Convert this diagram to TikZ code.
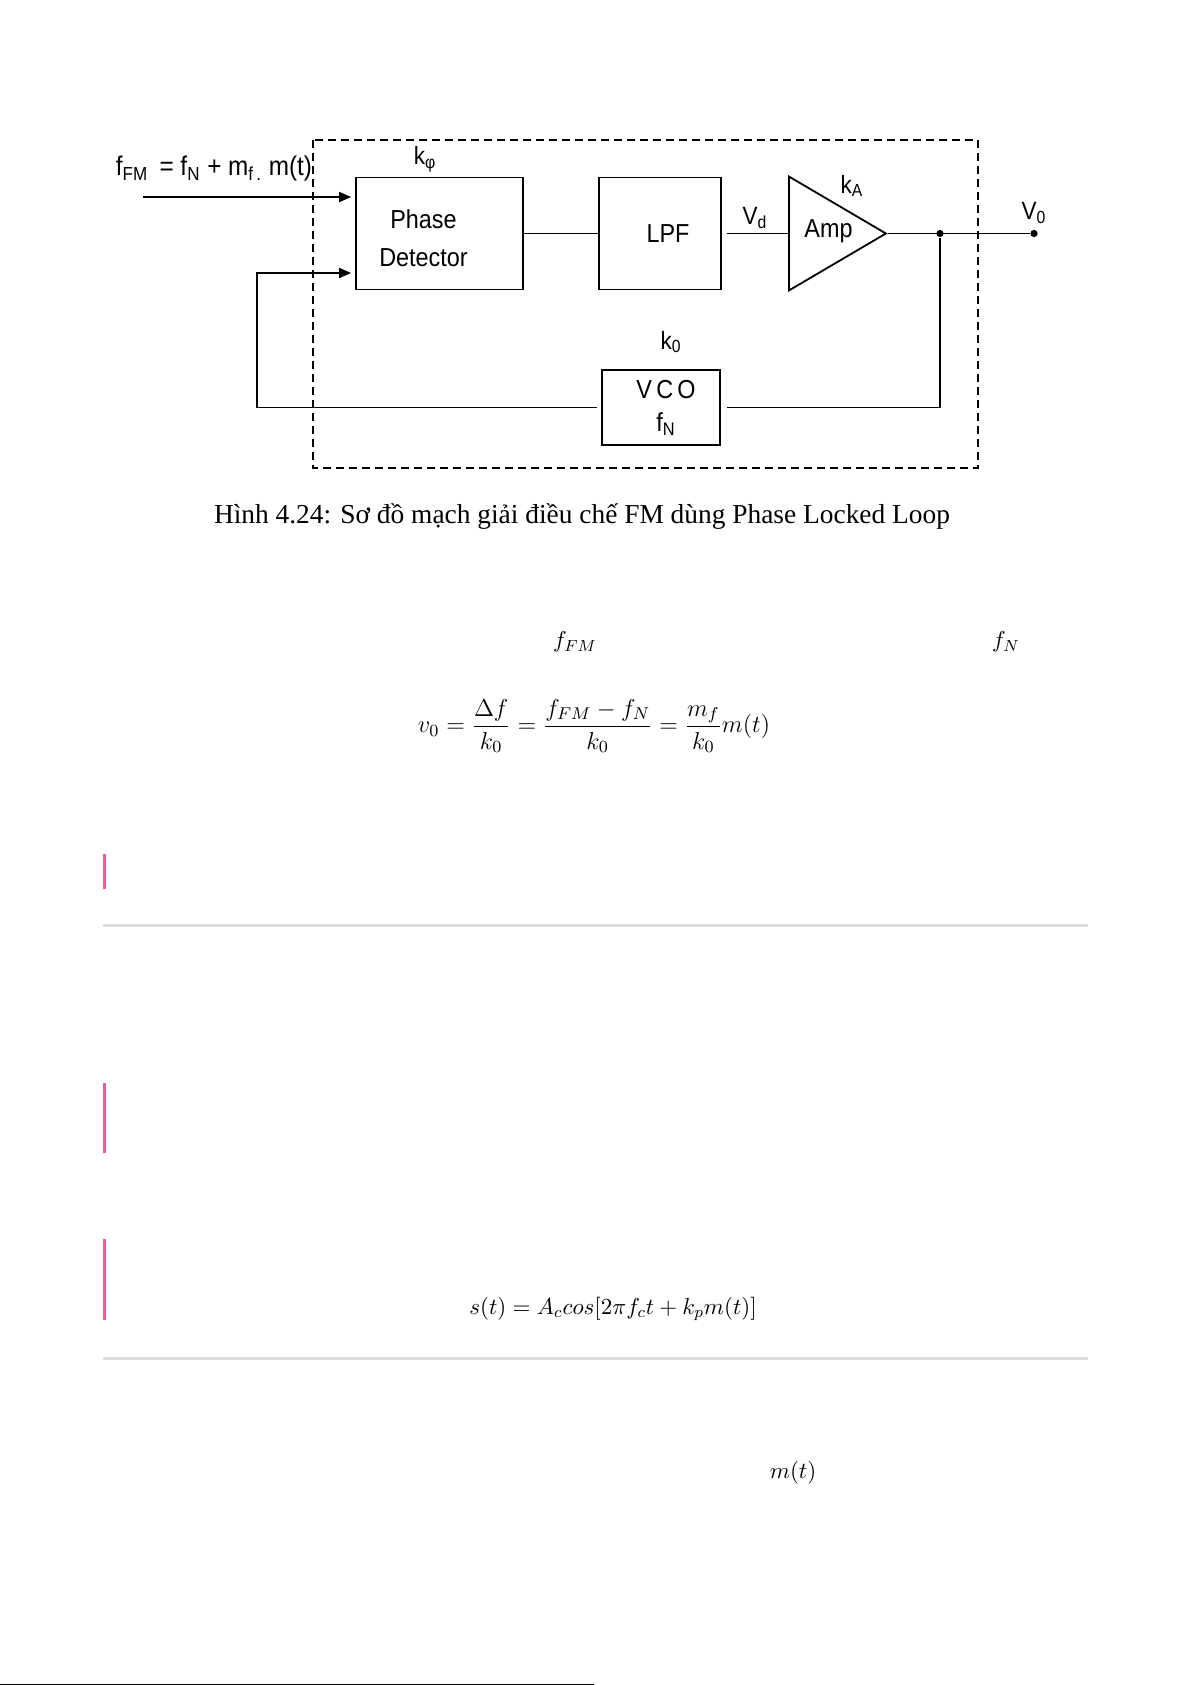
\RequirePackage{fix-cm}
\documentclass[tikz,border=0pt]{standalone}
\usepackage{fontspec}
\setmainfont{Liberation Serif}
\newfontfamily\blkfont[FakeStretch=0.9]{Liberation Sans}
\usetikzlibrary{arrows.meta,shapes.geometric,positioning}
\definecolor{barpink}{HTML}{EC5B96}
\definecolor{rulegray}{HTML}{DEDEDE}
\begin{document}
\begin{tikzpicture}[x=0.5pt,y=-0.5pt,line width=0.9pt,
  blk/.style={draw,inner sep=0pt,align=center,font=\blkfont\fontsize{13}{19}\selectfont},
  lbl/.style={inner sep=0pt,font=\blkfont\fontsize{12.5}{15}\selectfont},
  tip/.style={-{Triangle[length=6pt,width=5pt]},shorten >=2pt},
  dot/.style={circle,fill,inner sep=0pt,minimum size=3.6pt},
  bar/.style={barpink,line width=1.5pt},
  sep/.style={rulegray,line width=1.5pt},
  txt/.style={inner sep=0pt,font=\fontsize{11.5}{14}\selectfont}]
\useasboundingbox (0,0) rectangle (1191,1685);
\fill[white] (0,0) rectangle (1191,1685);
\draw[line width=0.7pt,dash pattern=on 4pt off 2.5pt] (313,140) rectangle (978,468);
\node[blk,minimum width=83.5pt,minimum height=56pt,
  label={[blk,draw=none,xshift=-8pt,yshift=-2.5pt]center:Phase\\Detector}] (pd) at (439.5,233.5) {};
\node[blk,minimum width=61pt,minimum height=56pt,
  label={[blk,draw=none,xshift=4pt]center:LPF}] (lpf) at (660,233.5) {};
\node[blk,shape=isosceles triangle,isosceles triangle stretches,minimum width=57pt,
  minimum height=48.5pt,anchor=west,
  label={[blk,draw=none,xshift=3.5pt,yshift=1pt]center:Amp}] (amp) at (788,233.5) {};
\node[blk,minimum width=59pt,minimum height=37.5pt,
  label={[blk,draw=none,xshift=2.5pt,font=\blkfont\fontsize{13}{16.5}\selectfont]center:V\,C\,O\\f\textsubscript{N}}]
  (vco) at (661,407.5) {};
\node[dot] (jn) at (940,233.5) {};
\node[dot] (vout) at (1034,233.5) {};
\coordinate (fin) at (143,197);
\coordinate (fbc) at (257,273);
\draw[tip] (fin) -- (pd.west |- fin);
\draw[tip,shorten <=2pt] (vco.west) -| (fbc) -- (pd.west |- fbc);
\draw (pd.east) -- (lpf.west);
\draw[shorten <=2.5pt] (lpf.east) -- node[lbl,above=2pt] {V\textsubscript{d}} (amp.west);
\draw (amp.apex) -- (vout);
\draw[shorten >=3pt] (jn) |- (vco.east);
\node[lbl] (kphi) at (425,159) {k\textsubscript{φ}};
\node[lbl] (ka) at (852,186) {k\textsubscript{A}};
\node[lbl] (ko) at (671,342) {k\textsubscript{0}};
\node[lbl] (vo) at (1034,213) {V\textsubscript{0}};
\node[lbl,font=\blkfont\fontsize{13.5}{16}\selectfont] (ffm) at (214,169)
  {f\textsubscript{FM} \,= f\textsubscript{N} + m\textsubscript{f\,.} m(t)};
\node[inner sep=0pt,font=\fontsize{13.7}{16}\selectfont] (cap) at (582,517)
  {Hình 4.24: Sơ đồ mạch giải điều chế FM dùng Phase Locked Loop};
\node[txt] (ffmtxt) at (575,642) {$f_{FM}$};
\node[txt] (fntxt) at (1006,642) {$f_N$};
\node[txt,font=\fontsize{12.2}{14}\selectfont] (eqv) at (594,726)
  {$\displaystyle v_0=\frac{\Delta f}{k_0}=\frac{f_{FM}-f_N}{k_0}=\frac{m_f}{k_0}m(t)$};
\draw[bar] (104,854) -- (104,889);
\draw[sep] (103,925.5) -- (1088,925.5);
\draw[bar] (104,1083) -- (104,1153);
\draw[bar] (104,1239) -- (104,1320);
\node[txt] (eqs) at (613,1309) {$s(t)=A_ccos[2\pi f_ct+k_pm(t)]$};
\draw[sep] (103,1358) -- (1088,1358);
\node[txt] (mt) at (793,1473) {$m(t)$};
\draw[line width=0.5pt] (0,1684.5) -- (594,1684.5);
\end{tikzpicture}
\end{document}
